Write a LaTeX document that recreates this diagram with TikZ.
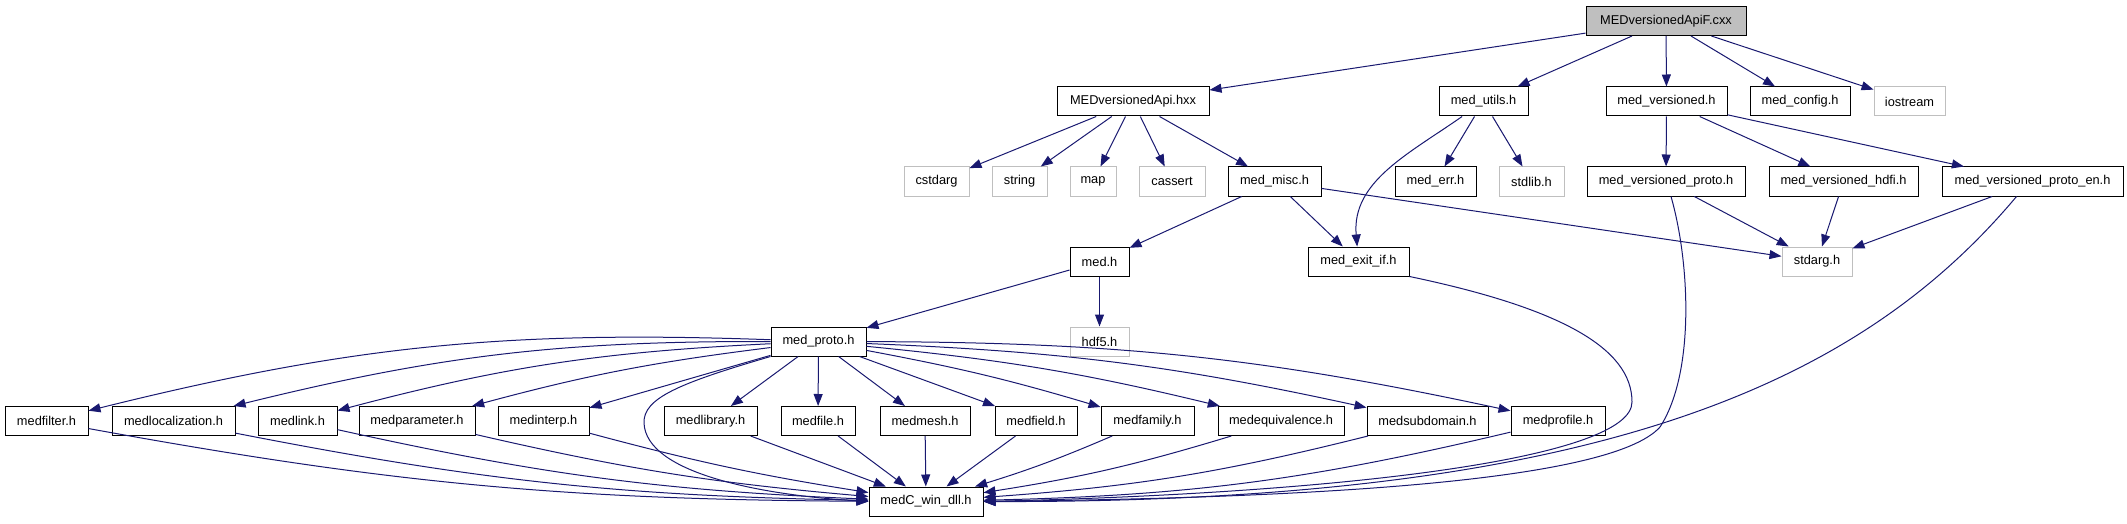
\documentclass[tikz,border=0pt]{standalone}
\usepackage{fontspec}
\setmainfont{Liberation Sans}
\usetikzlibrary{arrows.meta}
\definecolor{edgeblue}{HTML}{191970}
\definecolor{sysgray}{HTML}{BFBFBF}

\begin{document}
\begin{tikzpicture}[x=1pt,y=1pt,
    file/.style={draw=black,line width=1pt,fill=white,minimum height=29pt,inner sep=0pt,font=\fontsize{12.8}{15}\selectfont},
    sysfile/.style={file,draw=sysgray},
    inc/.style={draw=edgeblue,line width=1pt,-{Triangle[length=12pt,width=9pt]}}]
  \useasboundingbox (0,0) rectangle (2127,523);

  \node[file,fill=sysgray,minimum width=160pt] (top) at (1666,502) {MEDversionedApiF.cxx};

  \node[file,minimum width=152pt] (api) at (1133,421.5) {MEDversionedApi.hxx};
  \node[file,minimum width=89pt] (utils) at (1483.5,421.5) {med\_utils.h};
  \node[file,minimum width=121pt] (versioned) at (1666.5,421.5) {med\_versioned.h};
  \node[file,minimum width=100pt] (config) at (1800,421.5) {med\_config.h};
  \node[sysfile,minimum width=71pt] (iostream) at (1909.5,421.5) {iostream};

  \node[sysfile,minimum width=65pt] (cstdarg) at (936.5,341.5) {cstdarg};
  \node[sysfile,minimum width=55pt] (string) at (1019.5,341.5) {string};
  \node[sysfile,minimum width=46pt] (map) at (1093,341.5) {map};
  \node[sysfile,minimum width=66pt] (cassert) at (1172,341.5) {cassert};
  \node[file,minimum width=93pt] (misc) at (1274.5,341.5) {med\_misc.h};
  \node[file,minimum width=81pt] (err) at (1435.5,341.5) {med\_err.h};
  \node[sysfile,minimum width=65pt] (stdlib) at (1531.5,341.5) {stdlib.h};
  \node[file,minimum width=158pt] (vproto) at (1666,341.5) {med\_versioned\_proto.h};
  \node[file,minimum width=149pt] (vhdfi) at (1843.5,341.5) {med\_versioned\_hdfi.h};
  \node[file,minimum width=181pt] (vprotoen) at (2032.5,341.5) {med\_versioned\_proto\_en.h};

  \node[file,minimum width=59pt] (med) at (1099.5,261.5) {med.h};
  \node[file,minimum width=101pt] (exitif) at (1358.5,261.5) {med\_exit\_if.h};
  \node[sysfile,minimum width=70pt] (stdarg) at (1817,261.5) {stdarg.h};

  \node[sysfile,minimum width=59pt] (hdf5) at (1099.5,181.5) {hdf5.h};
  \node[file,minimum width=95pt] (proto) at (818.5,181.5) {med\_proto.h};

  \node[file,minimum width=83pt] (filter) at (46.5,102) {medfilter.h};
  \node[file,minimum width=123pt] (localization) at (173.5,102) {medlocalization.h};
  \node[file,minimum width=79pt] (link) at (297.5,102) {medlink.h};
  \node[file,minimum width=116pt] (parameter) at (417,102) {medparameter.h};
  \node[file,minimum width=91pt] (interp) at (543.5,102) {medinterp.h};
  \node[file,minimum width=93pt] (library) at (710.5,102) {medlibrary.h};
  \node[file,minimum width=74pt] (medfile) at (818,102) {medfile.h};
  \node[file,minimum width=90pt] (mesh) at (925,102) {medmesh.h};
  \node[file,minimum width=82pt] (field) at (1036,102) {medfield.h};
  \node[file,minimum width=93pt] (family) at (1147.5,102) {medfamily.h};
  \node[file,minimum width=126pt] (equivalence) at (1281,102) {medequivalence.h};
  \node[file,minimum width=121pt] (subdomain) at (1427.5,102) {medsubdomain.h};
  \node[file,minimum width=94pt] (profile) at (1558,102) {medprofile.h};

  \node[file,minimum width=114pt] (dll) at (926,21.5) {medC\_win\_dll.h};

  \draw[inc] (top) -- (api);
  \draw[inc] (top) -- (utils);
  \draw[inc] (top) -- (versioned);
  \draw[inc] (top) -- (config);
  \draw[inc] (top) -- (iostream);

  \draw[inc] (api) -- (cstdarg);
  \draw[inc] (api) -- (string);
  \draw[inc] (api) -- (map);
  \draw[inc] (api) -- (cassert);
  \draw[inc] (api) -- (misc);

  \draw[inc] (utils) to[out=215,in=95] (exitif);
  \draw[inc] (utils) -- (err);
  \draw[inc] (utils) -- (stdlib);

  \draw[inc] (versioned) -- (vproto);
  \draw[inc] (versioned) -- (vhdfi);
  \draw[inc] (versioned) -- (vprotoen);

  \draw[inc] (misc) -- (med);
  \draw[inc] (misc) -- (exitif);
  \draw[inc] (misc) -- (stdarg);

  \draw[inc] (vproto) -- (stdarg);
  \draw[inc] (vhdfi) -- (stdarg);
  \draw[inc] (vprotoen) -- (stdarg);

  \draw[inc] (med) -- (proto);
  \draw[inc] (med) -- (hdf5);

  \draw[inc] (exitif.south east) .. controls (1560,215) and (1632,175) .. (1632,121)
    .. controls (1632,65) and (1350,30) .. (dll.east);
  \draw[inc] ([xshift=5pt]vproto.south) .. controls (1690,260) and (1695,150) .. (1660,96)
    .. controls (1610,40) and (1300,25) .. (dll.east);
  \draw[inc] ([xshift=-16pt]vprotoen.south) .. controls (1860,140) and (1600,20) .. (dll.east);

  \draw[inc] (proto) to[bend right=8] (filter);
  \draw[inc] (proto) to[bend right=7] (localization);
  \draw[inc] (proto) to[bend right=6] (link);
  \draw[inc] (proto) to[bend right=4] (parameter);
  \draw[inc] (proto) -- (interp);
  \draw[inc] (proto) -- (library);
  \draw[inc] (proto) -- (medfile);
  \draw[inc] (proto) -- (mesh);
  \draw[inc] (proto) -- (field);
  \draw[inc] (proto) to[bend left=3] (family);
  \draw[inc] (proto) to[bend left=4] (equivalence);
  \draw[inc] (proto) to[bend left=5] (subdomain);
  \draw[inc] (proto) to[bend left=6] (profile);
  \draw[inc] (proto.south west) .. controls (680,140) and (643,125) .. (644,100)
    .. controls (646,50) and (760,28) .. (dll.west);

  \draw[inc] (filter) to[bend right=5] (dll);
  \draw[inc] (localization) to[bend right=5] (dll);
  \draw[inc] (link) to[bend right=5] (dll);
  \draw[inc] (parameter) to[bend right=4] (dll);
  \draw[inc] (interp) to[bend right=3] (dll);
  \draw[inc] (library) -- (dll);
  \draw[inc] (medfile) -- (dll);
  \draw[inc] (mesh) -- (dll);
  \draw[inc] (field) -- (dll);
  \draw[inc] (family) to[bend left=3] (dll);
  \draw[inc] (equivalence) to[bend left=4] (dll);
  \draw[inc] (subdomain) to[bend left=5] (dll);
  \draw[inc] (profile) to[bend left=6] (dll);
\end{tikzpicture}
\end{document}
